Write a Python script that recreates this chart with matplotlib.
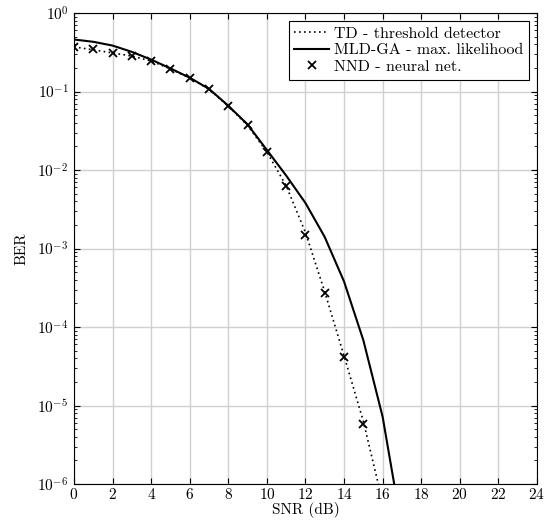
import numpy as np
import matplotlib.pyplot as plt
from matplotlib.ticker import LogLocator, NullFormatter

plt.rcParams['font.family'] = 'serif'
plt.rcParams['font.serif'] = ['cmr10']
plt.rcParams['mathtext.fontset'] = 'cm'
plt.rcParams['axes.unicode_minus'] = False
plt.rcParams['axes.formatter.use_mathtext'] = True

# SNR axis (dB)
snr_td = [0, 1, 2, 3, 4, 5, 6, 7, 8, 9, 10, 11, 12, 13, 14, 15, 16]
ber_td = [0.37, 0.34, 0.31, 0.283, 0.245, 0.194, 0.149, 0.107, 0.065, 0.037,
          0.017, 0.0063, 0.0016, 2.8e-4, 4.3e-5, 6.3e-6, 5.9e-7]

snr_mld = [0, 1, 2, 3, 4, 5, 6, 7, 8, 9, 10, 11, 12, 13, 14, 15, 16, 17]
ber_mld = [0.46, 0.43, 0.385, 0.32, 0.255, 0.197, 0.15, 0.108, 0.066, 0.038,
           0.018, 0.0085, 0.0038, 0.0014, 3.8e-4, 6.8e-5, 7.2e-6, 2.7e-7]

snr_nnd = [0, 1, 2, 3, 4, 5, 6, 7, 8, 9, 10, 11, 12, 13, 14, 15]
ber_nnd = [0.37, 0.345, 0.31, 0.283, 0.245, 0.194, 0.149, 0.107, 0.065, 0.037,
           0.017, 0.0062, 0.0015, 2.7e-4, 4.1e-5, 5.8e-6]

fig = plt.figure(figsize=(5.44, 5.21), dpi=100)
ax = fig.add_axes([0.136, 0.071, 0.851, 0.904])

ax.plot(snr_td, ber_td, color='black', linestyle=(0, (1, 2)), linewidth=1.2,
        label='TD - threshold detector')
ax.plot(snr_mld, ber_mld, color='black', linestyle='-', linewidth=1.5,
        label='MLD-GA - max. likelihood')
ax.plot(snr_nnd, ber_nnd, color='black', linestyle='none', marker='x',
        markersize=6, markeredgewidth=1.3, label='NND - neural net.')

ax.set_yscale('log')
ax.set_xlim(0, 24)
ax.set_ylim(1e-6, 1)
ax.set_xticks(np.arange(0, 25, 2))
ax.yaxis.set_major_locator(LogLocator(base=10, numticks=10))
ax.yaxis.set_minor_locator(LogLocator(base=10, subs=np.arange(2, 10), numticks=10))
ax.yaxis.set_minor_formatter(NullFormatter())

ax.grid(True, which='major', color='#d0d0d0', linewidth=1.0)
ax.set_axisbelow(True)
ax.tick_params(which='both', direction='in', top=True, right=True, labelsize=11)
ax.tick_params(which='major', length=4)
ax.tick_params(which='minor', length=2.5)
ax.tick_params(axis='x', pad=2)
ax.tick_params(axis='y', pad=4)

ax.set_xlabel('SNR (dB)', fontsize=11, labelpad=0)
ax.set_ylabel('BER', fontsize=11, labelpad=6)

leg = ax.legend(loc='upper right', fontsize=11.5, frameon=True, fancybox=False,
                edgecolor='black', framealpha=1, handlelength=2.2,
                borderaxespad=0.5, borderpad=0.35, labelspacing=0.15,
                handletextpad=0.3)
leg.get_frame().set_linewidth(0.8)

fig.savefig('out.png', dpi=100)
